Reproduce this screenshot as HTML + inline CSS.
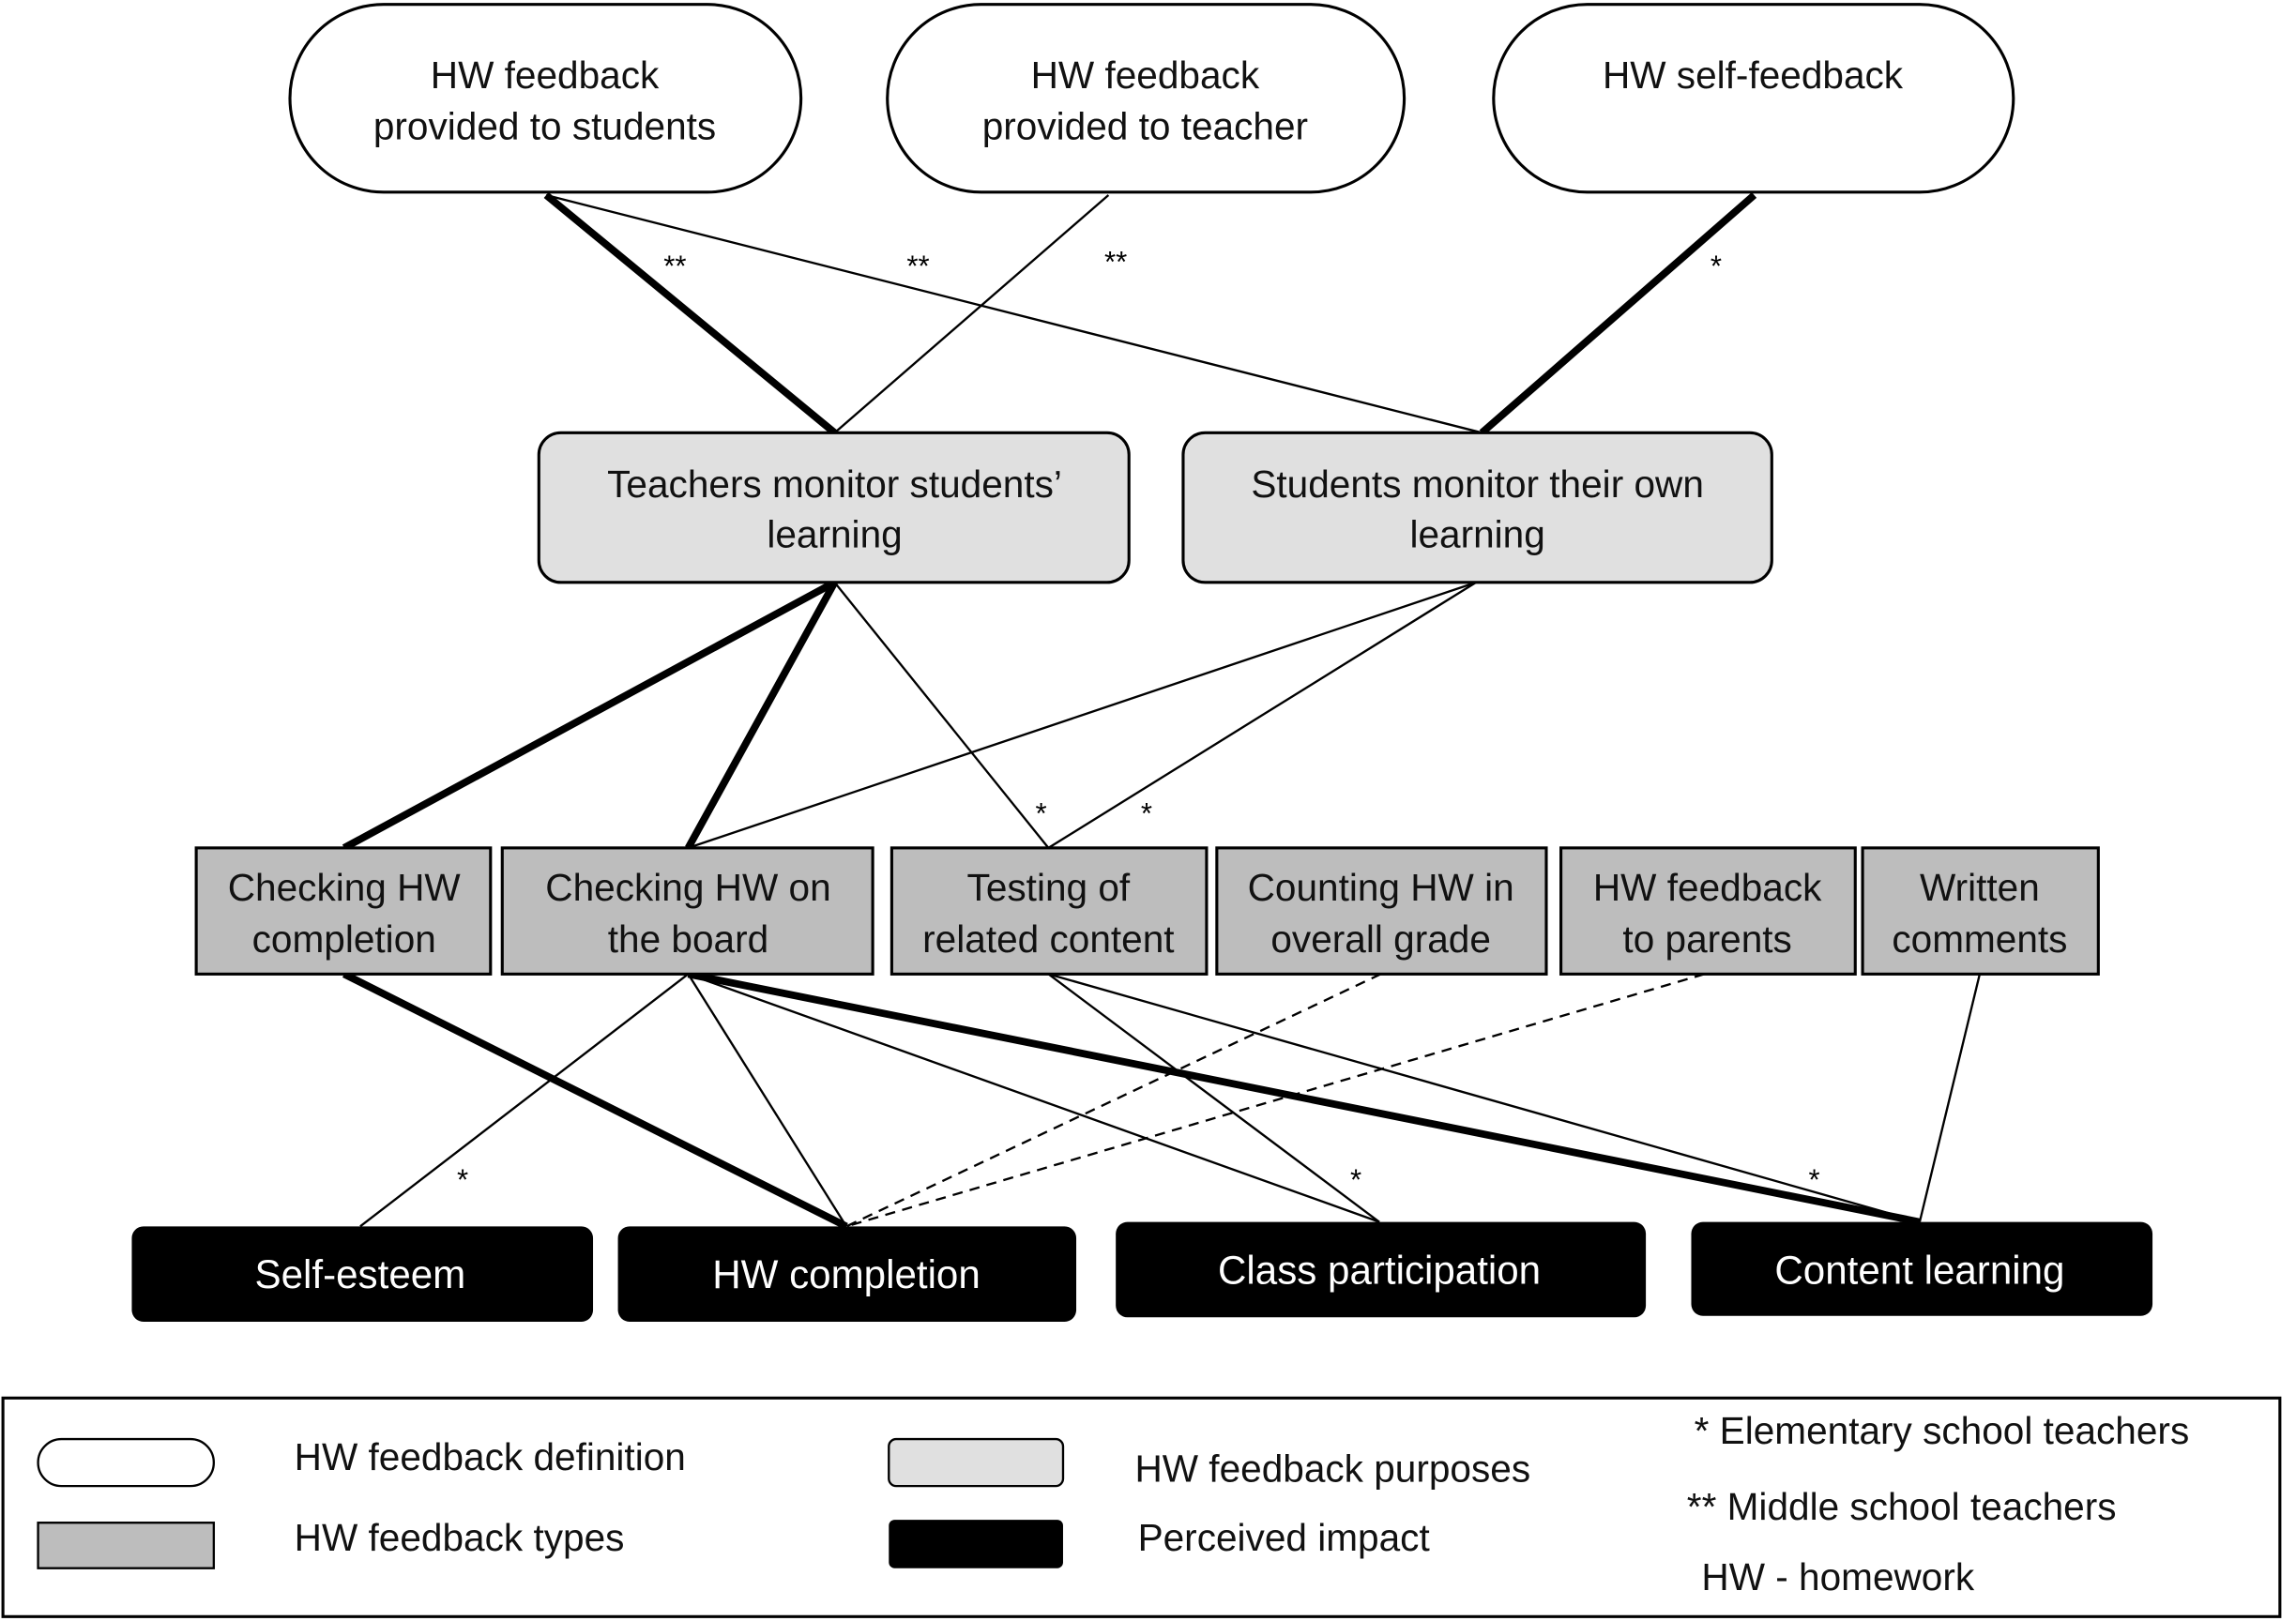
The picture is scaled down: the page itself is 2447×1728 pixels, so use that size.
<!DOCTYPE html>
<html><head><meta charset="utf-8"><style>html,body{margin:0;padding:0;background:#fff}svg{display:block}text{font-family:"Liberation Sans",sans-serif}</style></head>
<body>
<svg width="2447" height="1728" viewBox="0 0 1568 1105" preserveAspectRatio="none" xmlns="http://www.w3.org/2000/svg">
<rect width="1568" height="1105" fill="#fff"/>
<g stroke="#000" fill="none">
<line x1="373" y1="133" x2="570" y2="295" stroke-width="5"/>
<line x1="373" y1="133" x2="1012" y2="295" stroke-width="1.5"/>
<line x1="757" y1="133" x2="570" y2="295" stroke-width="1.5"/>
<line x1="1198" y1="133" x2="1012" y2="295" stroke-width="5"/>
<line x1="570" y1="397" x2="235" y2="578" stroke-width="5"/>
<line x1="570" y1="397" x2="470" y2="578" stroke-width="5"/>
<line x1="570" y1="397" x2="716" y2="578" stroke-width="1.5"/>
<line x1="1008" y1="397" x2="470" y2="578" stroke-width="1.5"/>
<line x1="1008" y1="397" x2="716" y2="578" stroke-width="1.5"/>
<line x1="235" y1="664" x2="578" y2="836" stroke-width="5"/>
<line x1="470" y1="664" x2="246" y2="836" stroke-width="1.5"/>
<line x1="470" y1="664" x2="578" y2="836" stroke-width="1.5"/>
<line x1="470" y1="664" x2="942" y2="833" stroke-width="1.5"/>
<line x1="470" y1="664" x2="1311" y2="833" stroke-width="5"/>
<line x1="716" y1="664" x2="942" y2="833" stroke-width="1.5"/>
<line x1="716" y1="664" x2="1311" y2="833" stroke-width="1.5"/>
<line x1="943" y1="664" x2="578" y2="836" stroke-width="1.5" stroke-dasharray="7,5"/>
<line x1="1164" y1="664" x2="578" y2="836" stroke-width="1.5" stroke-dasharray="7,5"/>
<line x1="1352" y1="664" x2="1311" y2="833" stroke-width="1.5"/>
</g>
<g font-size="20" text-anchor="middle">
<text x="461" y="188">**</text><text x="627" y="188">**</text><text x="762" y="185">**</text><text x="1172" y="188">*</text>
<text x="711" y="561">*</text><text x="783" y="561">*</text>
<text x="316" y="811">*</text><text x="926" y="811">*</text><text x="1239" y="811">*</text>
</g>
<g stroke="#000" stroke-width="2" fill="#fff">
<rect x="198" y="3" width="349" height="128" rx="64"/>
<rect x="606" y="3" width="353" height="128" rx="64"/>
<rect x="1020" y="3" width="355" height="128" rx="64"/>
</g>
<g stroke="#000" stroke-width="2" fill="#e0e0e0">
<rect x="368" y="295" width="403" height="102" rx="15"/>
<rect x="808" y="295" width="402" height="102" rx="15"/>
</g>
<g stroke="#000" stroke-width="2" fill="#bdbdbd">
<rect x="134" y="578" width="201" height="86"/>
<rect x="343" y="578" width="253" height="86"/>
<rect x="609" y="578" width="215" height="86"/>
<rect x="831" y="578" width="225" height="86"/>
<rect x="1066" y="578" width="201" height="86"/>
<rect x="1272" y="578" width="161" height="86"/>
</g>
<g fill="#000">
<rect x="90" y="836" width="315" height="65" rx="8"/>
<rect x="422" y="836" width="313" height="65" rx="8"/>
<rect x="762" y="833" width="362" height="65" rx="8"/>
<rect x="1155" y="833" width="315" height="64" rx="8"/>
</g>
<g font-size="26" text-anchor="middle" fill="#111">
<text x="372" y="60">HW feedback</text><text x="372" y="95">provided to students</text>
<text x="782" y="60">HW feedback</text><text x="782" y="95">provided to teacher</text>
<text x="1197" y="60">HW self-feedback</text>
<text x="570" y="339">Teachers monitor students’</text><text x="570" y="373">learning</text>
<text x="1009" y="339">Students monitor their own</text><text x="1009" y="373">learning</text>
<text x="235" y="614">Checking HW</text><text x="235" y="649">completion</text>
<text x="470" y="614">Checking HW on</text><text x="470" y="649">the board</text>
<text x="716" y="614">Testing of</text><text x="716" y="649">related content</text>
<text x="943" y="614">Counting HW in</text><text x="943" y="649">overall grade</text>
<text x="1166" y="614">HW feedback</text><text x="1166" y="649">to parents</text>
<text x="1352" y="614">Written</text><text x="1352" y="649">comments</text>
</g>
<g font-size="27" text-anchor="middle" fill="#fff">
<text x="246" y="878">Self-esteem</text>
<text x="578" y="878">HW completion</text>
<text x="942" y="875">Class participation</text>
<text x="1311" y="875">Content learning</text>
</g>
<rect x="2" y="953" width="1555" height="149" fill="#fff" stroke="#000" stroke-width="2"/>
<rect x="26" y="981" width="120" height="32" rx="16" fill="#fff" stroke="#000" stroke-width="1.5"/>
<rect x="26" y="1038" width="120" height="31" fill="#bdbdbd" stroke="#000" stroke-width="1.5"/>
<rect x="607" y="981" width="119" height="32" rx="5" fill="#e0e0e0" stroke="#000" stroke-width="1.5"/>
<rect x="607" y="1036" width="119" height="33" rx="4" fill="#000"/>
<g font-size="26" fill="#111">
<text x="201" y="1002">HW feedback definition</text>
<text x="201" y="1057">HW feedback types</text>
<text x="775" y="1010">HW feedback purposes</text>
<text x="777" y="1057">Perceived impact</text>
<text x="1157" y="984">* Elementary school teachers</text>
<text x="1152" y="1036">** Middle school teachers</text>
<text x="1162" y="1084">HW - homework</text>
</g>
</svg>
</body></html>
